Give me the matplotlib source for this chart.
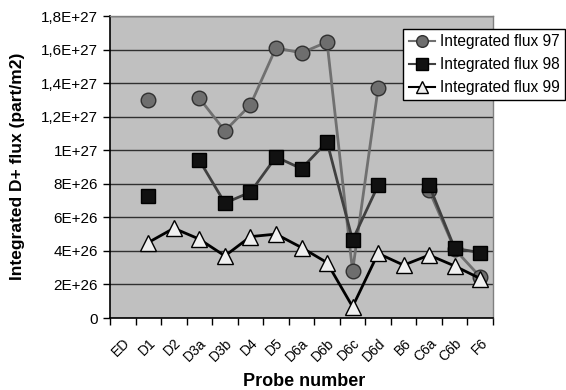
import numpy as np
import matplotlib
matplotlib.use("Agg")
import matplotlib.pyplot as plt
from matplotlib.transforms import ScaledTranslation

nan = np.nan

probes = ["ED", "D1", "D2", "D3a", "D3b", "D4", "D5", "D6a", "D6b",
          "D6c", "D6d", "B6", "C6a", "C6b", "F6"]

flux_97 = [nan, 1.30e27, nan, 1.31e27, 1.115e27, 1.27e27, 1.61e27, 1.58e27,
           1.645e27, 2.8e26, 1.37e27, nan, 7.6e26, 4.1e26, 2.45e26]
flux_98 = [nan, 7.3e26, nan, 9.4e26, 6.85e26, 7.5e26, 9.6e26, 8.9e26,
           1.05e27, 4.65e26, 7.9e26, nan, 7.9e26, 4.15e26, 3.9e26]
flux_99 = [nan, 4.5e26, 5.35e26, 4.7e26, 3.7e26, 4.85e26, 5.0e26, 4.2e26,
           3.3e26, 6.7e25, 3.85e26, 3.15e26, 3.75e26, 3.1e26, 2.35e26]

yticks = [0, 2e26, 4e26, 6e26, 8e26, 1e27, 1.2e27, 1.4e27, 1.6e27, 1.8e27]
ytick_labels = ["0", "2E+26", "4E+26", "6E+26", "8E+26", "1E+27",
                "1,2E+27", "1,4E+27", "1,6E+27", "1,8E+27"]

plt.rcParams['font.family'] = ['Liberation Sans', 'DejaVu Sans']

fig = plt.figure(figsize=(5.66, 3.9), dpi=100)
ax = fig.add_axes([110 / 566, 1 - 318 / 390, 383 / 566, 302 / 390])
ax.set_facecolor("#c0c0c0")

x = np.arange(len(probes))

ax.plot(x, flux_97, color="#707070", lw=2, marker="o", ms=10.5,
        mfc="#6e6e6e", mec="#303030", mew=1, label="Integrated flux 97", zorder=3)
ax.plot(x, flux_98, color="#404040", lw=2, marker="s", ms=10.5,
        mfc="#111111", mec="#000000", mew=1, label="Integrated flux 98", zorder=4)
ax.plot(x, flux_99, color="#000000", lw=2, marker="^", ms=11,
        mfc="#f0f0f0", mec="#000000", mew=1, label="Integrated flux 99", zorder=5)

ax.set_xlim(-0.5, len(probes) - 0.5)
ax.set_ylim(0, 1.8e27)

ax.set_yticks(yticks)
ax.set_yticklabels(ytick_labels, fontsize=11)
ax.yaxis.grid(True, color="#303030", lw=1)
ax.set_axisbelow(True)

ax.set_xticks(x)
ax.set_xticklabels(probes, rotation=45, ha="right", rotation_mode="anchor",
                   fontsize=10)
shift = ScaledTranslation(-9 / 100, 0, fig.dpi_scale_trans)
for lab in ax.get_xticklabels():
    lab.set_transform(lab.get_transform() + shift)
ax.tick_params(axis="x", which="major", length=0, pad=13)
ax.set_xticks(np.arange(-0.5, len(probes)), minor=True)
ax.tick_params(axis="x", which="minor", length=5, direction="out", width=1)
ax.tick_params(axis="y", length=5, direction="out", width=1)

for s in ["left", "bottom"]:
    ax.spines[s].set_color("black")
    ax.spines[s].set_linewidth(1.2)
for s in ["top", "right"]:
    ax.spines[s].set_color("#808080")
    ax.spines[s].set_linewidth(1)

fig.text(18 / 566, 1 - 166 / 390, "Integrated D+ flux (part/m2)", rotation=90,
         ha="center", va="center", fontsize=12.5, fontweight="bold")
fig.text(304 / 566, 1 - 382 / 390, "Probe number", ha="center", va="center",
         fontsize=13, fontweight="bold")

leg = ax.legend(loc="upper right", bbox_to_anchor=(565 / 566, 1 - 29 / 390),
                bbox_transform=fig.transFigure, borderaxespad=0,
                fancybox=False, framealpha=1, edgecolor="black",
                fontsize=11.2, handlelength=1.7, handletextpad=0.3,
                labelspacing=0.5, borderpad=0.35, markerscale=0.8)
leg.get_frame().set_linewidth(1)
for line in leg.get_lines():
    line.set_linewidth(1.5)

fig.savefig("out.png", dpi=100)
